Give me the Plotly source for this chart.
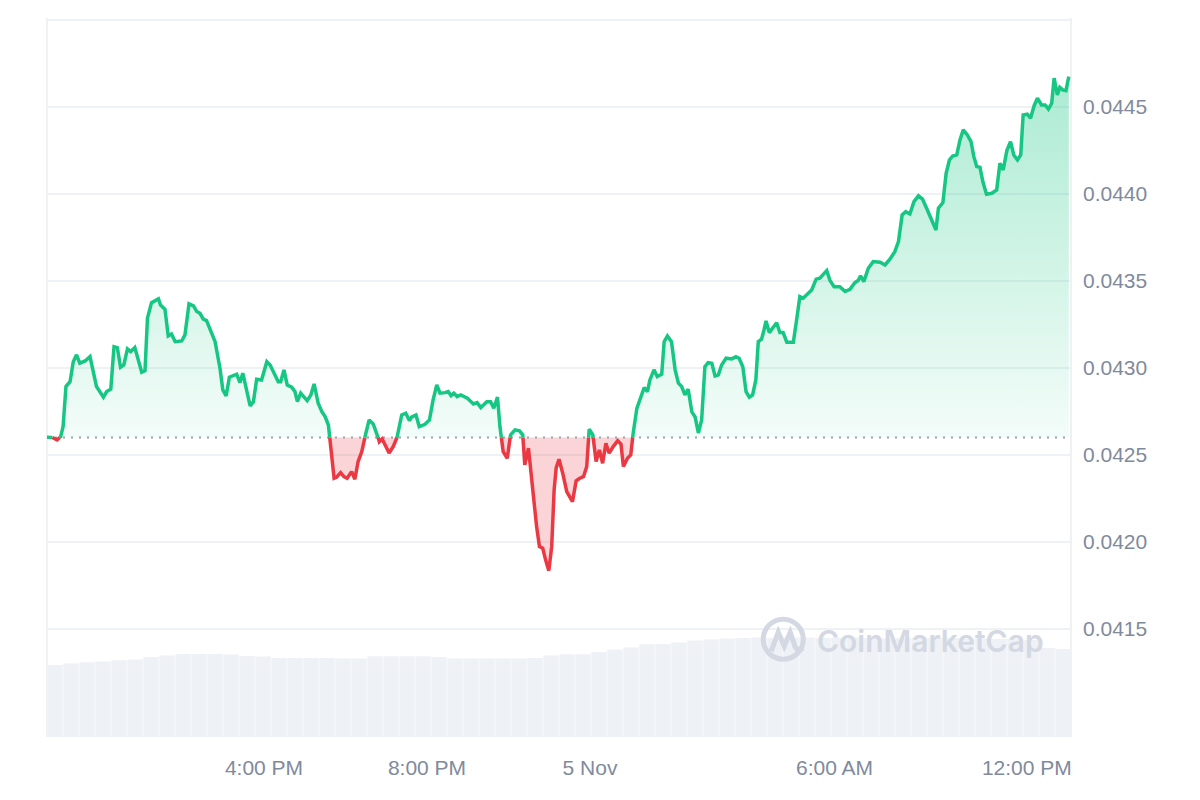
import plotly.graph_objects as go

# ---------------- data ----------------
# time in hours relative to 00:00, 5 Nov (negative = 4 Nov)
times_h = [
    -13.33, -13.20, -13.08, -12.99, -12.93, -12.86, -12.76, -12.68, -12.60, -12.52,
    -12.39, -12.27, -12.11, -11.94, -11.86, -11.76, -11.68, -11.60, -11.52, -11.44,
    -11.35, -11.27, -11.17, -11.00, -10.92, -10.86, -10.76, -10.59, -10.54, -10.43,
    -10.35, -10.27, -10.18, -10.02, -9.94, -9.84, -9.73, -9.65, -9.57, -9.49,
    -9.41, -9.33, -9.20, -9.08, -9.01, -8.93, -8.85, -8.67, -8.59, -8.52,
    -8.42, -8.34, -8.26, -8.18, -8.06, -7.93, -7.85, -7.65, -7.59, -7.51,
    -7.43, -7.32, -7.24, -7.18, -7.10, -6.94, -6.85, -6.77, -6.67, -6.58,
    -6.50, -6.42, -6.38, -6.28, -6.22, -6.12, -6.04, -5.96, -5.85, -5.77,
    -5.69, -5.60, -5.52, -5.42, -5.32, -5.23, -5.17, -5.10, -4.99, -4.93,
    -4.83, -4.74, -4.62, -4.52, -4.43, -4.38, -4.27, -4.19, -4.05, -3.94,
    -3.85, -3.76, -3.68, -3.56, -3.48, -3.41, -3.34, -3.26, -3.17, -3.01,
    -2.86, -2.77, -2.68, -2.53, -2.44, -2.36, -2.27, -2.21, -2.13, -2.03,
    -1.95, -1.84, -1.73, -1.65, -1.60, -1.51, -1.41, -1.31, -1.24, -1.16,
    -1.09, -1.01, -0.94, -0.88, -0.83, -0.76, -0.67, -0.57, -0.43, -0.34, -0.25,
    -0.16, -0.08, -0.02, 0.07, 0.15, 0.23, 0.31, 0.39, 0.47, 0.57,
    0.68, 0.76, 0.82, 0.92, 1.00, 1.06, 1.15, 1.23, 1.33, 1.41,
    1.47, 1.57, 1.65, 1.76, 1.82, 1.90, 2.00, 2.09, 2.17, 2.25,
    2.33, 2.41, 2.50, 2.58, 2.66, 2.74, 2.82, 2.90, 2.99, 3.07,
    3.15, 3.23, 3.34, 3.48, 3.58, 3.66, 3.75, 3.83, 3.91, 3.99,
    4.07, 4.13, 4.21, 4.27, 4.32, 4.40, 4.50, 4.58, 4.66, 4.74,
    4.83, 4.99, 5.07, 5.15, 5.23, 5.33, 5.44, 5.55, 5.64, 5.73,
    5.81, 5.89, 5.99, 6.13, 6.26, 6.38, 6.50, 6.58, 6.64, 6.72,
    6.83, 6.95, 7.12, 7.24, 7.36, 7.48, 7.57, 7.66, 7.75, 7.85,
    7.95, 8.06, 8.16, 8.26, 8.39, 8.49, 8.55, 8.66, 8.74, 8.82,
    8.90, 9.00, 9.08, 9.16, 9.26, 9.35, 9.42, 9.49, 9.57, 9.64,
    9.73, 9.86, 9.98, 10.06, 10.14, 10.23, 10.32, 10.40, 10.49, 10.57,
    10.63, 10.73, 10.81, 10.90, 10.98, 11.08, 11.17, 11.25, 11.33, 11.39,
    11.47, 11.53, 11.60, 11.68, 11.75,
]

prices = [
    0.042601, 0.042601, 0.042586, 0.042605, 0.042663, 0.042893, 0.042921, 0.043036, 0.043075, 0.043027,
    0.043040, 0.043065, 0.042893, 0.042832, 0.042864, 0.042878, 0.043122, 0.043117, 0.043004, 0.043017,
    0.043109, 0.043094, 0.043117, 0.042975, 0.042984, 0.043286, 0.043375, 0.043397, 0.043362, 0.043337,
    0.043184, 0.043195, 0.043151, 0.043155, 0.043190, 0.043368, 0.043356, 0.043324, 0.043314, 0.043280,
    0.043272, 0.043228, 0.043151, 0.042998, 0.042874, 0.042839, 0.042947, 0.042964, 0.042916, 0.042970,
    0.042855, 0.042782, 0.042806, 0.042935, 0.042931, 0.043036, 0.043017, 0.042921, 0.042921, 0.042989,
    0.042902, 0.042889, 0.042864, 0.042806, 0.042855, 0.042812, 0.042845, 0.042908, 0.042797, 0.042749,
    0.042720, 0.042672, 0.042586, 0.042366, 0.042372, 0.042398, 0.042375, 0.042366, 0.042404, 0.042360,
    0.042462, 0.042519, 0.042605, 0.042701, 0.042678, 0.042625, 0.042576, 0.042592, 0.042539, 0.042511,
    0.042548, 0.042596, 0.042730, 0.042740, 0.042697, 0.042717, 0.042730, 0.042663, 0.042676, 0.042701,
    0.042816, 0.042902, 0.042855, 0.042858, 0.042864, 0.042841, 0.042855, 0.042835, 0.042845, 0.042826,
    0.042793, 0.042801, 0.042772, 0.042806, 0.042806, 0.042768, 0.042832, 0.042663, 0.042519, 0.042481,
    0.042615, 0.042644, 0.042638, 0.042615, 0.042443, 0.042539, 0.042299, 0.042088, 0.041973, 0.041964,
    0.041897, 0.041835, 0.041973, 0.042299, 0.042425, 0.042475, 0.042395, 0.042289, 0.042232, 0.042351, 0.042366,
    0.042375, 0.042433, 0.042648, 0.042615, 0.042462, 0.042529, 0.042452, 0.042567, 0.042510, 0.042548,
    0.042582, 0.042563, 0.042433, 0.042481, 0.042500, 0.042625, 0.042768, 0.042816, 0.042887, 0.042864,
    0.042931, 0.042989, 0.042950, 0.042964, 0.043151, 0.043184, 0.043151, 0.042989, 0.042912, 0.042893,
    0.042845, 0.042878, 0.042747, 0.042718, 0.042626, 0.042701, 0.043007, 0.043030, 0.043027, 0.042954,
    0.042960, 0.043017, 0.043056, 0.043052, 0.043065, 0.043056, 0.043007, 0.042864, 0.042832, 0.042845,
    0.042931, 0.043151, 0.043165, 0.043218, 0.043270, 0.043203, 0.043234, 0.043260, 0.043203, 0.043203,
    0.043148, 0.043148, 0.043276, 0.043410, 0.043401, 0.043425, 0.043448, 0.043510, 0.043516, 0.043539,
    0.043559, 0.043502, 0.043467, 0.043467, 0.043439, 0.043452, 0.043490, 0.043502, 0.043529, 0.043496,
    0.043573, 0.043611, 0.043607, 0.043592, 0.043625, 0.043668, 0.043726, 0.043879, 0.043898, 0.043885,
    0.043956, 0.043989, 0.043970, 0.043918, 0.043851, 0.043793, 0.043918, 0.043950, 0.044119, 0.044195,
    0.044218, 0.044224, 0.044310, 0.044368, 0.044339, 0.044301, 0.044214, 0.044157, 0.044153, 0.044071,
    0.043998, 0.044004, 0.044023, 0.044176, 0.044138, 0.044249, 0.044301, 0.044224, 0.044195, 0.044224,
    0.044454, 0.044458, 0.044435, 0.044507, 0.044550, 0.044511, 0.044511, 0.044487, 0.044521, 0.044665,
    0.044569, 0.044613, 0.044598, 0.044594, 0.044674,
]

open_price = 0.0426          # reference (open) price, dotted line
window_start_h = -13.325     # left edge of the chart window
window_end_h = 11.804        # right edge of the chart window

# volume (arbitrary units, millions), evenly spaced bars across the window
volumes = [
    0.72, 0.735, 0.747, 0.755, 0.767, 0.775, 0.80, 0.815, 0.83, 0.83,
    0.83, 0.825, 0.81, 0.805, 0.79, 0.79, 0.79, 0.79, 0.785, 0.784,
    0.807, 0.807, 0.807, 0.807, 0.80, 0.784, 0.784, 0.784, 0.784, 0.784,
    0.79, 0.815, 0.827, 0.827, 0.85, 0.875, 0.895, 0.927, 0.93, 0.944,
    0.964, 0.975, 0.984, 0.99, 0.995, 0.99, 0.995, 0.995, 0.99, 0.99,
    0.995, 0.99, 0.985, 0.99, 0.99, 0.995, 0.99, 0.985, 0.985, 0.98,
    0.98, 0.97, 0.89, 0.88,
]

tick_vals_x = [-8, -4, 0, 6, 10.72]
tick_text_x = ["4:00 PM", "8:00 PM", "5 Nov", "6:00 AM", "12:00 PM"]
tick_vals_y = [0.0415, 0.0420, 0.0425, 0.0430, 0.0435, 0.0440, 0.0445, 0.0450]
tick_text_y = ["0.0415", "0.0420", "0.0425", "0.0430", "0.0435", "0.0440", "0.0445", ""]

GREEN = "#16c784"
RED = "#ea3943"
GREY_TXT = "#808a9d"
GRID = "#eff2f5"

# ---------------- split at the open price ----------------
T, P = [times_h[0]], [prices[0]]
for i in range(1, len(times_h)):
    t0, p0, t1, p1 = times_h[i - 1], prices[i - 1], times_h[i], prices[i]
    if (p0 - open_price) * (p1 - open_price) < 0:
        tc = t0 + (open_price - p0) * (t1 - t0) / (p1 - p0)
        T.append(tc)
        P.append(open_price)
    T.append(t1)
    P.append(p1)

green_line = [p if p >= open_price else None for p in P]
red_line = [p if p <= open_price else None for p in P]
green_area = [max(p, open_price) for p in P]
red_area = [min(p, open_price) for p in P]
base = [open_price] * len(T)

n_vol = len(volumes)
bar_w = (window_end_h - window_start_h) / n_vol
vol_t = [window_start_h + (i + 0.5) * bar_w for i in range(n_vol)]

fig = go.Figure()

# volume bars
fig.add_trace(go.Bar(x=vol_t, y=volumes, width=bar_w * 0.96, yaxis="y2",
                     marker=dict(color="#eef1f5", line=dict(width=0)),
                     hoverinfo="skip", showlegend=False))

# green area
fig.add_trace(go.Scatter(x=T, y=base, mode="lines", line=dict(width=0),
                         hoverinfo="skip", showlegend=False))
fig.add_trace(go.Scatter(x=T, y=green_area, mode="lines", line=dict(width=0),
                         fill="tonexty",
                         fillgradient=dict(type="vertical",
                                           colorscale=[[0, "rgba(22,199,132,0.05)"],
                                                       [1, "rgba(22,199,132,0.36)"]],
                                           start=open_price, stop=0.0447),
                         hoverinfo="skip", showlegend=False))
# red area
fig.add_trace(go.Scatter(x=T, y=base, mode="lines", line=dict(width=0),
                         hoverinfo="skip", showlegend=False))
fig.add_trace(go.Scatter(x=T, y=red_area, mode="lines", line=dict(width=0),
                         fill="tonexty", fillcolor="rgba(234,57,67,0.22)",
                         hoverinfo="skip", showlegend=False))

# dotted open-price line
fig.add_trace(go.Scatter(x=[window_start_h, window_end_h], y=[open_price, open_price],
                         mode="lines", line=dict(color="#9aa1b3", width=2, dash="2px,6px"),
                         hoverinfo="skip", showlegend=False))

# price lines
fig.add_trace(go.Scatter(x=T, y=green_line, mode="lines", connectgaps=False,
                         line=dict(color=GREEN, width=3.5), showlegend=False))
fig.add_trace(go.Scatter(x=T, y=red_line, mode="lines", connectgaps=False,
                         line=dict(color=RED, width=3.5), showlegend=False))

WM = "#d3d8e2"
fig.update_layout(
    width=1200, height=800,
    margin=dict(l=47, r=129, t=18, b=63),
    paper_bgcolor="white", plot_bgcolor="white",
    showlegend=False,
    font=dict(family="Liberation Sans, Arial, sans-serif", color=GREY_TXT),
    xaxis=dict(range=[window_start_h, window_end_h], showgrid=False, zeroline=False,
               tickvals=tick_vals_x, ticktext=tick_text_x, ticks="",
               tickfont=dict(size=21, color=GREY_TXT), ticklabelstandoff=16,
               showline=False, fixedrange=True),
    yaxis=dict(range=[0.040879, 0.045011], side="right", tickvals=tick_vals_y,
               ticktext=tick_text_y, showgrid=True, gridcolor=GRID, gridwidth=2,
               zeroline=False, ticks="", tickfont=dict(size=21, color=GREY_TXT),
               ticklabelstandoff=11, showline=False),
    yaxis2=dict(range=[0, 7.19], overlaying="y", visible=False),
    shapes=[
        dict(type="line", xref="paper", yref="paper", x0=0, x1=0, y0=0, y1=1,
             line=dict(color=GRID, width=2), layer="below"),
        dict(type="line", xref="paper", yref="paper", x0=1, x1=1, y0=0, y1=1,
             line=dict(color=GRID, width=2), layer="below"),
        # watermark logo
        dict(type="circle", xref="paper", yref="paper", xsizemode="pixel", ysizemode="pixel",
             xanchor=0.719, yanchor=0.136, x0=-20, x1=20, y0=-20, y1=20,
             line=dict(color=WM, width=5), layer="above"),
        dict(type="path", xref="paper", yref="paper", xsizemode="pixel", ysizemode="pixel",
             xanchor=0.719, yanchor=0.136,
             path="M -12,-12 L -5,7 L 1,-7 L 7,7 L 12,-8 Q 15,-12 20,-9",
             line=dict(color=WM, width=5), layer="above"),
    ],
    annotations=[
        dict(text="CoinMarketCap", xref="paper", yref="paper", x=0.863, y=0.134,
             xanchor="center", yanchor="middle", showarrow=False,
             font=dict(family="Inter, Open Sans, sans-serif", size=30, color=WM, weight=600)),
    ],
)

fig.write_html("out.html")
